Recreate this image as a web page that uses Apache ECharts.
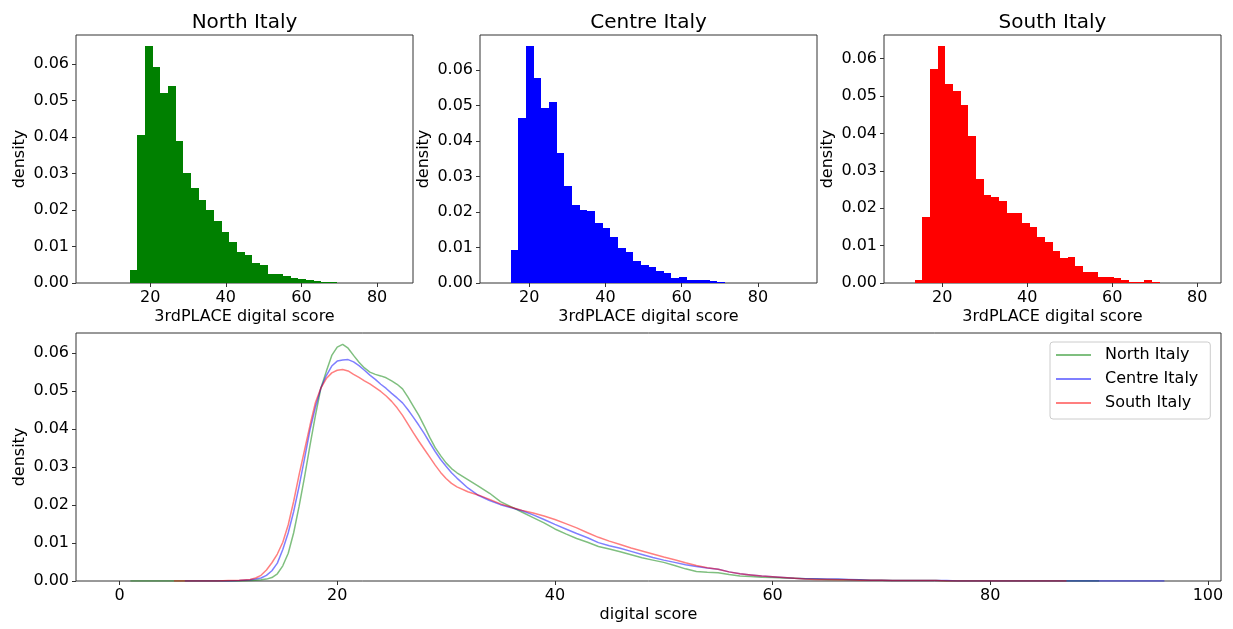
<!DOCTYPE html>
<html>
<head>
<meta charset="utf-8">
<script src="https://cdn.jsdelivr.net/npm/echarts@6/dist/echarts.min.js"></script>
<style>
  html, body { margin: 0; padding: 0; background: #ffffff; }
  #chart { width: 1233px; height: 629px; }
</style>
</head>
<body>
<div id="chart"></div>
<script>
// ---- Histogram data: 40 equal bins over each region's score range ----
const regionNames = ['North Italy', 'Centre Italy', 'South Italy'];
const binCount = 40;

const northRange = [4.45, 85.5];
const northDensity = [0, 0, 0, 0, 0,
  0.0037, 0.0405, 0.0649, 0.0592, 0.0521, 0.0541, 0.0390, 0.0302, 0.0260, 0.0228,
  0.0201, 0.0170, 0.0139, 0.0113, 0.0086, 0.0078, 0.0055, 0.0050, 0.0026, 0.0025,
  0.0019, 0.0014, 0.0011, 0.0008, 0.0005, 0.0004, 0.0003,
  0, 0, 0, 0, 0, 0, 0, 0];

const centreRange = [11.1, 91.5];
const centreDensity = [0, 0,
  0.0093, 0.0464, 0.0667, 0.0578, 0.0494, 0.0510, 0.0366, 0.0272, 0.0220, 0.0206,
  0.0202, 0.0169, 0.0155, 0.0131, 0.0098, 0.0088, 0.0062, 0.0052, 0.0044, 0.0034,
  0.0027, 0.0014, 0.0017, 0.0008, 0.0008, 0.0008, 0.0006, 0.0003,
  0, 0, 0, 0, 0, 0, 0, 0, 0, 0];

const southRange = [9.9, 82.0];
const southDensity = [0, 0,
  0.0007, 0.0177, 0.0571, 0.0633, 0.0532, 0.0514, 0.0475, 0.0392, 0.0279, 0.0235,
  0.0229, 0.0218, 0.0187, 0.0187, 0.0160, 0.0150, 0.0124, 0.0109, 0.0085, 0.0068,
  0.0070, 0.0045, 0.0029, 0.0029, 0.0015, 0.0017, 0.0013, 0.0008, 0.0004, 0.0004,
  0.0007, 0.0003,
  0, 0, 0, 0, 0, 0];

// ---- Kernel density curves on a shared score grid ----
const scoreGrid = [1, 2, 3, 4, 5, 6, 7, 8, 9, 10, 11,
  12, 12.5, 13, 13.5, 14, 14.5, 15, 15.5, 16, 16.5, 17, 17.5, 18, 18.5, 19, 19.5,
  20, 20.5, 21, 21.5, 22, 22.5, 23, 23.5, 24, 24.5, 25, 25.5, 26, 26.5, 27, 27.5,
  28, 28.5, 29, 29.5, 30, 30.5, 31,
  32, 33, 34, 35, 36, 37, 38, 39, 40, 41, 42, 43, 44, 45, 46, 47, 48, 49, 50, 51,
  52, 53, 54, 55, 56, 57, 58, 59, 60, 61, 62, 63, 64, 65, 66, 67, 68, 69, 70, 71,
  72, 73, 74, 75, 76, 77, 78, 79, 80, 81, 82, 83, 84, 85, 86, 87, 88, 89, 90, 91,
  92, 93, 94, 95, 96];

const northKde = [0, 0, 0, 0, 0, 0, 0, 0, 0, 0, 0,
  0.0001, 0.0002, 0.0003, 0.0005, 0.0009, 0.0019, 0.0040, 0.0073, 0.0127, 0.0197,
  0.0274, 0.0357, 0.0436, 0.0508, 0.0552, 0.0594, 0.0616, 0.0623, 0.0613, 0.0594,
  0.0576, 0.0561, 0.0550, 0.0544, 0.0540, 0.0535, 0.0527, 0.0518, 0.0506, 0.0484,
  0.0460, 0.0436, 0.0408, 0.0378, 0.0351, 0.0330, 0.0311, 0.0296, 0.0285,
  0.0267, 0.0249, 0.0231, 0.0209, 0.0195, 0.0181, 0.0167, 0.0153, 0.0137, 0.0124,
  0.0112, 0.0102, 0.0091, 0.0084, 0.0077, 0.0069, 0.0061, 0.0055, 0.0049, 0.0041,
  0.0032, 0.0025, 0.0023, 0.0022, 0.0017, 0.0013, 0.0012, 0.0010, 0.0009, 0.0008,
  0.0007, 0.0006, 0.0005, 0.0004, 0.0004, 0.0003, 0.0003, 0.0002, 0.0002,
  0.0001, 0.0001, 0.0001, 0.0001, 0.0001,
  0, 0, 0, 0, 0, 0, 0, 0, 0, 0, 0, 0, 0, 0, 0,
  null, null, null, null, null, null];

const centreKde = [null, null, null, null, null, 0, 0, 0, 0, 0, 0.0001,
  0.0003, 0.0005, 0.0008, 0.0015, 0.0027, 0.0047, 0.0083, 0.0127, 0.0183, 0.0250,
  0.0323, 0.0398, 0.0458, 0.0508, 0.0541, 0.0566, 0.0579, 0.0582, 0.0583, 0.0577,
  0.0567, 0.0555, 0.0542, 0.0531, 0.0518, 0.0507, 0.0494, 0.0482, 0.0469, 0.0451,
  0.0431, 0.0410, 0.0388, 0.0364, 0.0341, 0.0320, 0.0302, 0.0285, 0.0271,
  0.0245, 0.0225, 0.0212, 0.0201, 0.0193, 0.0185, 0.0174, 0.0162, 0.0149, 0.0137,
  0.0125, 0.0114, 0.0101, 0.0093, 0.0086, 0.0078, 0.0070, 0.0062, 0.0055, 0.0049,
  0.0043, 0.0038, 0.0034, 0.0031, 0.0024, 0.0019, 0.0016, 0.0013, 0.0011, 0.0009,
  0.0007, 0.0006, 0.0006, 0.0005, 0.0005, 0.0004, 0.0003, 0.0002, 0.0002,
  0.0001, 0.0001, 0.0001, 0.0001, 0.0001, 0.0001,
  0, 0, 0, 0, 0, 0, 0, 0, 0, 0, 0, 0, 0, 0, 0, 0, 0, 0, 0, 0];

const southKde = [null, null, null, null, 0, 0, 0, 0, 0, 0.0001, 0.0002,
  0.0004, 0.0008, 0.0015, 0.0029, 0.0048, 0.0071, 0.0102, 0.0148, 0.0210, 0.0280,
  0.0345, 0.0410, 0.0470, 0.0508, 0.0533, 0.0548, 0.0555, 0.0557, 0.0553, 0.0544,
  0.0536, 0.0527, 0.0519, 0.0509, 0.0499, 0.0487, 0.0473, 0.0456, 0.0436, 0.0413,
  0.0390, 0.0368, 0.0347, 0.0326, 0.0305, 0.0286, 0.0270, 0.0257, 0.0248,
  0.0235, 0.0226, 0.0215, 0.0203, 0.0194, 0.0186, 0.0179, 0.0171, 0.0162, 0.0151,
  0.0140, 0.0127, 0.0115, 0.0105, 0.0096, 0.0087, 0.0079, 0.0071, 0.0063, 0.0056,
  0.0048, 0.0041, 0.0035, 0.0031, 0.0024, 0.0019, 0.0016, 0.0013, 0.0011, 0.0009,
  0.0007, 0.0005, 0.0004, 0.0004, 0.0003, 0.0003, 0.0002, 0.0002, 0.0002,
  0.0001, 0.0001, 0.0001, 0.0001, 0.0001,
  0, 0, 0, 0, 0, 0, 0, 0, 0, 0, 0, 0,
  null, null, null, null, null, null, null, null, null];

// ---- Tick positions ----
const densityTicks = [0, 0.01, 0.02, 0.03, 0.04, 0.05, 0.06];
const histScoreTicks = [20, 40, 60, 80];
const kdeScoreTicks = [0, 20, 40, 60, 80, 100];

// ---- Styling ----
const FONT = 'DejaVu Sans';
const INK = '#000000';
const FRAME = '#333333';
const histColors = ['#008000', '#0000ff', '#ff0000'];
const kdeColors = ['rgba(0,128,0,0.5)', 'rgba(0,0,255,0.5)', 'rgba(255,0,0,0.5)'];

function makeBins(range, density) {
  const w = (range[1] - range[0]) / binCount;
  return density.map((h, i) => [range[0] + i * w, range[0] + (i + 1) * w, h]);
}

// Each bin is a rectangle snapped to whole pixels so neighbouring bars meet without seams
function histSeries(idx, bins, color) {
  return {
    type: 'custom',
    id: 'hist' + idx,
    xAxisIndex: idx,
    yAxisIndex: idx,
    data: bins,
    encode: { x: [0, 1], y: 2 },
    silent: true,
    renderItem: function (params, api) {
      const h = api.value(2);
      if (!(h > 0)) return null;
      const p0 = api.coord([api.value(0), 0]);
      const p1 = api.coord([api.value(1), h]);
      const x0 = Math.round(p0[0]), x1 = Math.round(p1[0]);
      const yb = Math.round(p0[1]), yt = Math.round(p1[1]);
      return {
        type: 'rect',
        shape: { x: x0, y: yt, width: x1 - x0, height: yb - yt },
        style: { fill: color }
      };
    }
  };
}

function kdeSeries(name, values, color) {
  const pts = [];
  values.forEach((v, i) => { if (v !== null) pts.push([scoreGrid[i], v]); });
  return {
    type: 'line',
    name: name,
    xAxisIndex: 3,
    yAxisIndex: 3,
    data: pts,
    showSymbol: false,
    symbol: 'none',
    color: color,
    lineStyle: { width: 1.5, color: color },
    silent: true
  };
}

const labelStyle = { fontFamily: FONT, fontSize: 16, color: INK };

function xAxis(idx, min, max, ticks, name) {
  return {
    type: 'value', gridIndex: idx, min: min, max: max,
    name: name, nameLocation: 'middle', nameGap: 26, nameMoveOverlap: false,
    nameTextStyle: labelStyle,
    axisLine: { show: false, onZero: false },
    splitLine: { show: false },
    axisTick: { show: true, inside: false, length: 4, customValues: ticks,
                lineStyle: { color: FRAME, width: 1 } },
    axisLabel: Object.assign({ margin: 7, customValues: ticks }, labelStyle)
  };
}

function yAxis(idx, max) {
  return {
    type: 'value', gridIndex: idx, min: 0, max: max,
    name: 'density', nameLocation: 'middle', nameGap: 48, nameMoveOverlap: false,
    nameTextStyle: labelStyle,
    axisLine: { show: false, onZero: false },
    splitLine: { show: false },
    axisTick: { show: true, inside: false, length: 4, customValues: densityTicks,
                lineStyle: { color: FRAME, width: 1 } },
    axisLabel: Object.assign({ margin: 7, customValues: densityTicks,
                               formatter: v => v.toFixed(2) }, labelStyle)
  };
}

const gridBase = { show: true, borderColor: FRAME, borderWidth: 1,
                   backgroundColor: 'transparent', containLabel: false,
                   outerBoundsMode: 'none' };

const histLefts = [76, 480, 884];
const histWidth = 337;

const option = {
  animation: false,
  backgroundColor: '#ffffff',
  textStyle: { fontFamily: FONT },
  title: regionNames.map((n, i) => ({
    text: n,
    left: histLefts[i] + histWidth / 2,
    top: 13,
    padding: 0,
    textAlign: 'center',
    textStyle: { fontFamily: FONT, fontSize: 20, fontWeight: 'normal', color: INK }
  })),
  grid: [
    Object.assign({ left: 76, top: 35, width: histWidth, height: 248 }, gridBase),
    Object.assign({ left: 480, top: 35, width: histWidth, height: 248 }, gridBase),
    Object.assign({ left: 884, top: 35, width: histWidth, height: 248 }, gridBase),
    Object.assign({ left: 76, top: 333, width: 1145, height: 248 }, gridBase)
  ],
  xAxis: [
    xAxis(0, 0.4, 89.5, histScoreTicks, '3rdPLACE digital score'),
    xAxis(1, 7.1, 95.5, histScoreTicks, '3rdPLACE digital score'),
    xAxis(2, 6.3, 85.6, histScoreTicks, '3rdPLACE digital score'),
    xAxis(3, -4, 101.2, kdeScoreTicks, 'digital score')
  ],
  yAxis: [
    yAxis(0, 0.068),
    yAxis(1, 0.0699),
    yAxis(2, 0.0663),
    yAxis(3, 0.0653)
  ],
  legend: {
    data: regionNames,
    orient: 'vertical',
    left: 1050,
    top: 342,
    icon: 'rect',
    itemWidth: 35,
    itemHeight: 2,
    itemGap: 8,
    padding: [5, 12, 8, 6],
    borderColor: '#cccccc',
    borderWidth: 1,
    borderRadius: 3,
    backgroundColor: 'rgba(255,255,255,0.8)',
    selectedMode: false,
    textStyle: { fontFamily: FONT, fontSize: 16, color: INK, lineHeight: 16,
                 padding: [0, 0, 0, 9] }
  },
  series: [
    histSeries(0, makeBins(northRange, northDensity), histColors[0]),
    histSeries(1, makeBins(centreRange, centreDensity), histColors[1]),
    histSeries(2, makeBins(southRange, southDensity), histColors[2]),
    kdeSeries(regionNames[0], northKde, kdeColors[0]),
    kdeSeries(regionNames[1], centreKde, kdeColors[1]),
    kdeSeries(regionNames[2], southKde, kdeColors[2])
  ]
};

const chart = echarts.init(document.getElementById('chart'), null, { renderer: 'canvas' });
chart.setOption(option);
</script>
</body>
</html>
